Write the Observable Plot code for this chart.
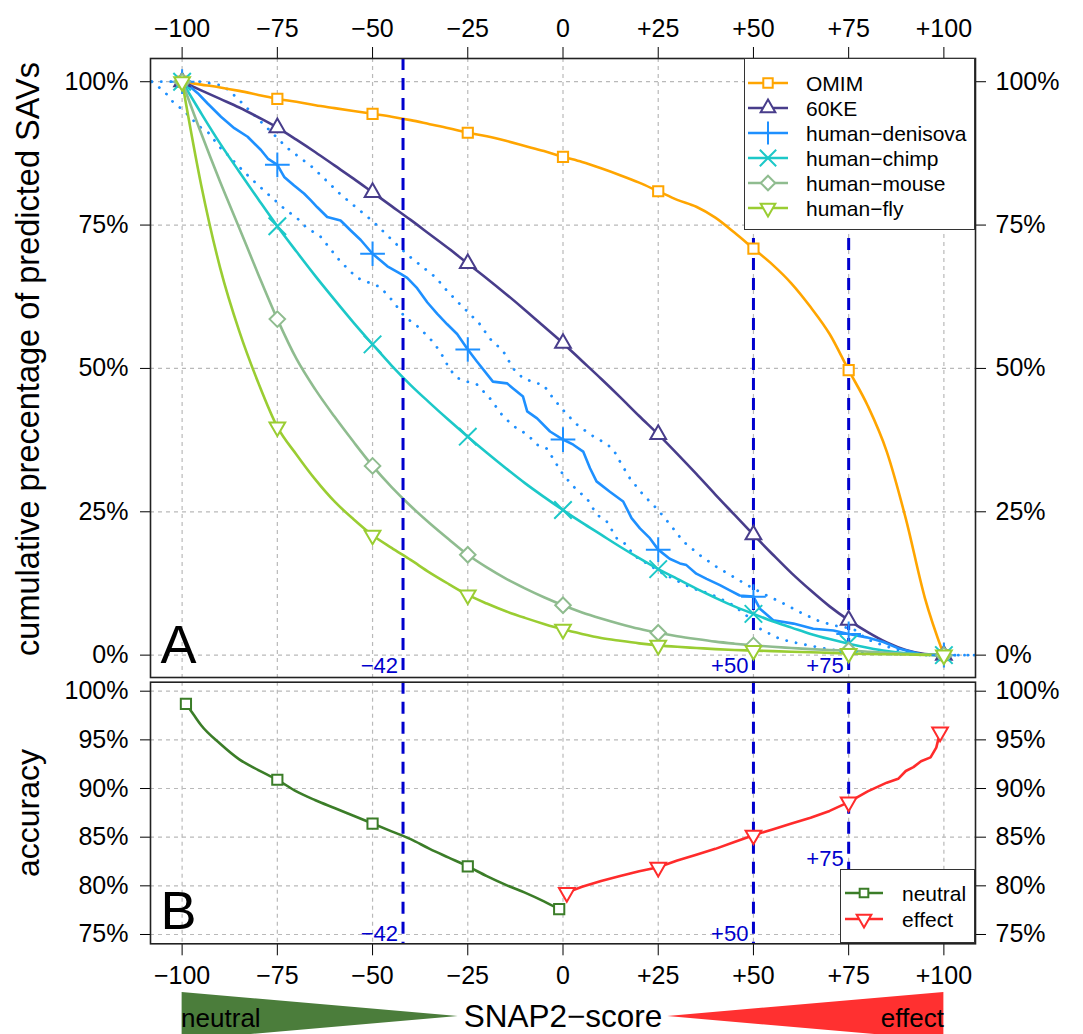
<!DOCTYPE html>
<html>
<head>
<meta charset="utf-8">
<script src="https://cdn.jsdelivr.net/npm/d3@7"></script>
<script src="https://cdn.jsdelivr.net/npm/@observablehq/plot@0.6"></script>
<style>
  html,body{margin:0;padding:0;background:#fff;overflow:hidden}
  #wrap{position:relative;width:1083px;height:1034px;font-family:"Liberation Sans",Arial,Helvetica,sans-serif;color:#000;overflow:hidden}
  #wrap svg.plotsvg{position:absolute;left:0}
  .legend{position:absolute;background:#fff;border:1.5px solid #333;box-sizing:border-box}
  .legend svg{position:absolute}
  .legend span{position:absolute;white-space:nowrap;line-height:1}
</style>
</head>
<body>
<div id="wrap"></div>
<script>
// ================= DATA =================
// SNAP2 score grid (panel A smooth series sampled every 5 units)
const scoreGrid = [-100,-95,-90,-85,-80,-75,-70,-65,-60,-55,-50,-45,-40,-35,-30,-25,-20,-15,-10,-5,0,5,10,15,20,25,30,35,40,45,50,55,60,65,70,75,80,85,90,95,100];

// cumulative percentage of predicted SAVs (panel A)
const omim  = [100,99.5,99.0,98.4,97.7,97.0,96.5,95.9,95.4,94.9,94.4,93.9,93.3,92.6,91.9,91.1,90.5,89.7,88.8,87.9,86.9,86.0,84.9,83.7,82.4,80.9,79.4,78.2,76.3,73.7,70.9,68.1,64.8,60.7,56.0,49.7,43.5,35.5,23.8,10.0,0];
const ke60  = [100,98.5,97.0,95.5,93.8,92.0,89.9,87.7,85.4,83.1,80.7,78.3,75.9,73.4,70.9,68.3,65.7,63.0,60.2,57.3,54.4,51.3,48.2,45.0,41.7,38.5,35.1,31.6,28.0,24.5,21.0,17.6,14.3,11.3,8.5,6.1,4.0,2.2,0.9,0.2,0];
const chimp = [100,94.5,89.2,84.3,79.5,74.8,70.4,66.1,62.0,58.0,54.2,50.5,47.1,44.0,41.0,38.1,35.3,32.6,30.0,27.6,25.3,23.1,21.0,18.9,16.9,15.0,13.3,11.6,10.0,8.5,7.2,5.9,4.8,3.7,2.8,2.0,1.3,0.7,0.3,0.1,0];
const mouse = [100,91.0,82.5,74.5,66.4,58.6,51.7,46.3,41.6,37.2,33.0,29.3,26.0,23.0,20.2,17.5,15.3,13.35,11.65,10.1,8.7,7.45,6.4,5.45,4.6,3.9,3.3,2.8,2.35,2.0,1.7,1.45,1.25,1.05,0.9,0.8,0.6,0.4,0.25,0.1,0];
const fly   = [100,82.0,67.5,56.5,47.5,39.8,35.0,30.6,26.8,23.7,20.9,18.7,16.6,14.4,12.4,10.5,9.0,7.65,6.5,5.45,4.5,3.7,3.0,2.5,2.05,1.7,1.45,1.25,1.05,0.9,0.8,0.7,0.6,0.5,0.4,0.3,0.2,0.15,0.1,0.05,0];

// human-denisova (jagged, [score, %])
const denisova = [[-100,100],[-99.4,100],[-95.9,98],[-93.3,96.2],[-89.8,93.9],[-86.3,91.9],[-82.8,90.4],[-79.3,88.1],[-77.5,86.6],[-75,85.5],[-73.2,83.4],[-70.6,81.9],[-68,80.5],[-66.2,79.3],[-64.5,78.1],[-61.9,76.4],[-58.4,75.8],[-55.8,74.1],[-53.1,72.4],[-50,70.0],[-46.1,67.8],[-42.6,66.5],[-40.9,65.8],[-38.3,64],[-35.6,61.5],[-33,59.5],[-30.4,57.7],[-27.8,56],[-25,53.3],[-22.6,51.2],[-18.4,47.7],[-14.7,47.4],[-13.1,46.5],[-10.5,45.1],[-9.4,42.5],[-6.8,41.3],[-3.4,39],[0,37.6],[2.7,36.7],[5.3,35.5],[7.1,32.6],[8.8,30.3],[12.3,28.5],[15.8,26.8],[18,23.9],[20.2,22.1],[22.8,20.4],[25,18.4],[28,16.8],[30.7,16],[32.4,15.7],[35,14.2],[37.7,13.3],[41.2,12.2],[43.8,11.3],[46.4,10.4],[50,10.2],[51.7,8.1],[55.2,6.1],[60.5,5.5],[65.7,4.6],[71,4.3],[75,3.7],[79.7,3.1],[84.1,2.3],[88.4,1.1],[93.7,0.2],[100,0]];
const denisovaMarks = [[-100,100],[-75,85.5],[-50,70.0],[-25,53.3],[0,37.6],[25,18.4],[50,10.2],[75,3.7],[100,0]];

// dotted bounds around human-denisova ([score, %])
const upperBound = [[-108,100],[-95,100],[-89.2,99.3],[-85.6,97.2],[-82.2,94.9],[-77,91.5],[-72.5,88.5],[-65.6,85],[-58.5,80.4],[-50,75.7],[-41,69.9],[-33.1,65.7],[-31.5,64.3],[-27.8,61.7],[-25.2,60],[-21.8,57.7],[-19.2,55.2],[-15.7,53],[-13.1,50],[-10.5,48.3],[-6.8,47.4],[-5.2,47.2],[-2.6,44.8],[1,42],[3.7,40.2],[7.1,38.5],[10.5,37.2],[13.1,36],[15,33.7],[17.6,30.8],[21,28],[24.7,25.5],[28.1,22.8],[31.6,19.8],[36,17.4],[40.3,15.4],[45.6,13.3],[50,11.6],[53.5,10.4],[57,9.3],[62.2,7.5],[66.6,6.1],[70.9,5.2],[76.2,4.6],[79.7,2.8],[84.1,1.7],[88.5,0.8],[93.7,0],[108,0]];
const lowerBound = [[-108,100],[-106.2,99.1],[-104,97.8],[-102.2,96.3],[-99.6,95],[-95.7,92.3],[-93.1,91.1],[-90,88.5],[-87.8,87.1],[-84.8,85],[-82.2,83.3],[-77.8,80.6],[-73.4,78],[-69.5,76],[-67.3,74.5],[-63.8,73.1],[-58.5,68.7],[-54.1,65.8],[-48,64.2],[-44.6,61.7],[-42.3,59.6],[-40.7,58.6],[-38.3,57.4],[-34.9,55.2],[-32.3,53],[-29.7,49.8],[-27.6,48.3],[-25.2,47.7],[-22.6,47.2],[-19.2,44.8],[-15.7,41.6],[-12.1,39.5],[-9.4,38.5],[-6.8,36.7],[-4.2,36],[-1.6,33.2],[0.1,31.4],[3.6,28.8],[6.3,27.3],[8.9,24.5],[11.5,23.3],[14.2,20.3],[16.8,19.2],[18.5,17.4],[22,16],[25.5,14.5],[29,13.3],[34.2,11.6],[38.6,10.7],[43,9.3],[44.7,8.7],[48.2,6.9],[51.7,4.6],[57,2.8],[62.2,2],[69.2,1.1],[75.3,0.5],[84.1,0.2],[97,0],[108,0]];

// accuracy (panel B, [score, %])
const neutralAcc = [[-99,98.7],[-97,97.6],[-95,96.5],[-90,94.6],[-85,93.0],[-80,91.9],[-75,90.9],[-70,89.7],[-65,88.8],[-60,88.0],[-55,87.2],[-50,86.4],[-45,85.6],[-40,84.8],[-35,83.8],[-30,82.9],[-25,82.0],[-20,81.0],[-15,80.1],[-10,79.3],[-5,78.4],[-1,77.6]];
const neutralMarks = [[-99,98.7],[-75,90.9],[-50,86.4],[-25,82.0],[-1,77.6]];
const effectAcc = [[1,79.3],[5,79.9],[10,80.5],[15,81.0],[20,81.5],[25,81.9],[30,82.6],[35,83.2],[40,83.8],[45,84.5],[50,85.2],[55,85.8],[60,86.4],[65,87.0],[70,87.7],[75,88.6],[80,89.7],[85,90.6],[88,91.0],[90,91.8],[92,92.2],[94,92.8],[96.5,93.2],[98,94.2],[99,95.8]];
const effectMarks = [[1,79.3],[25,81.9],[50,85.2],[75,88.6],[99,95.8]];

// ticks, thresholds, labels
const xTicks = [-100,-75,-50,-25,0,25,50,75,100];
const yTicksA = [0,25,50,75,100];
const yTicksB = [75,80,85,90,95,100];
const thresholds = [-42,50,75];
const seriesNames = ["OMIM","60KE","human\u2212denisova","human\u2212chimp","human\u2212mouse","human\u2212fly"];
const accNames = ["neutral","effect"];
const scaleEnds = [-100,100];     // SNAP2 colour wedges
const wedgeApex = [-27.5,27.5];

// ================= STYLE =================
const FONT = "'Liberation Sans', Arial, Helvetica, sans-serif";
const C = {omim:"#ffa500", ke60:"#483d8b", denisova:"#1e90ff", chimp:"#1cc8c8", mouse:"#8fbc8f", fly:"#9acd32",
           thr:"#0000cd", neutral:"#3b7d28", effect:"#ff2b2b", grid:"#b9b9b9"};
const fmtX = d => d > 0 ? `+${d}` : d < 0 ? `\u2212${-d}` : "0";
const pct = d => `${d}%`;
const XDOM = [-108.3, 108.3];

const smooth = [
  {name:seriesNames[0], vals:omim,  color:C.omim},
  {name:seriesNames[1], vals:ke60,  color:C.ke60},
  {name:seriesNames[3], vals:chimp, color:C.chimp},
  {name:seriesNames[4], vals:mouse, color:C.mouse},
  {name:seriesNames[5], vals:fly,   color:C.fly}
];
const rowsOf = s => scoreGrid.map((x,i)=>({x, y:s.vals[i]}));
const marksOf = s => rowsOf(s).filter(d => xTicks.includes(d.x));
const P = a => a.map(([x,y])=>({x,y}));

const gridStyle = {stroke:C.grid, strokeOpacity:1, strokeWidth:1.2, strokeDasharray:"4,4"};
const lineW = 2.6;

// ================= PANEL A =================
const lineMarks = [
  Plot.line(rowsOf(smooth[0]), {x:"x", y:"y", stroke:C.omim, strokeWidth:lineW, curve:"monotone-x"}),
  Plot.line(rowsOf(smooth[1]), {x:"x", y:"y", stroke:C.ke60, strokeWidth:lineW, curve:"monotone-x"}),
  Plot.line(P(denisova), {x:"x", y:"y", stroke:C.denisova, strokeWidth:lineW, strokeLinejoin:"round"}),
  Plot.line(rowsOf(smooth[2]), {x:"x", y:"y", stroke:C.chimp, strokeWidth:lineW, curve:"monotone-x"}),
  Plot.line(rowsOf(smooth[3]), {x:"x", y:"y", stroke:C.mouse, strokeWidth:lineW, curve:"monotone-x"}),
  Plot.line(rowsOf(smooth[4]), {x:"x", y:"y", stroke:C.fly, strokeWidth:lineW, curve:"monotone-x"})
];

const dotMarks = [
  Plot.dot(marksOf(smooth[0]), {x:"x", y:"y", symbol:"square2", r:6.5, stroke:C.omim, fill:"white", strokeWidth:2}),
  Plot.dot(marksOf(smooth[1]), {x:"x", y:"y", symbol:"triangle2", r:7.5, stroke:C.ke60, fill:"white", strokeWidth:2}),
  Plot.dot(P(denisovaMarks), {x:"x", y:"y", symbol:"plus", r:8, stroke:C.denisova, strokeWidth:2}),
  Plot.dot(marksOf(smooth[2]), {x:"x", y:"y", symbol:"times", r:8, stroke:C.chimp, strokeWidth:2}),
  Plot.dot(marksOf(smooth[3]), {x:"x", y:"y", symbol:"diamond2", r:7, stroke:C.mouse, fill:"white", strokeWidth:2}),
  Plot.dot(marksOf(smooth[4]), {x:"x", y:"y", symbol:"triangle2", rotate:180, r:7.5, stroke:C.fly, fill:"white", strokeWidth:2})
];

const plotA = Plot.plot({
  width:1083, height:680,
  marginTop:58, marginBottom:3, marginLeft:150, marginRight:108,
  x:{domain:XDOM}, y:{domain:[-3.9,104.05]},
  style:{fontFamily:FONT, fontSize:"25px", background:"transparent", overflow:"visible", color:"#000"},
  marks:[
    Plot.gridX(xTicks, gridStyle),
    Plot.gridY(yTicksA, gridStyle),
    Plot.line(P(upperBound), {x:"x", y:"y", stroke:C.denisova, strokeWidth:2.8, strokeDasharray:"0.1,9.5", strokeLinecap:"round"}),
    Plot.line(P(lowerBound), {x:"x", y:"y", stroke:C.denisova, strokeWidth:2.8, strokeDasharray:"0.1,9.5", strokeLinecap:"round"}),
    ...lineMarks,
    Plot.ruleX(thresholds, {stroke:C.thr, strokeWidth:3, strokeDasharray:"12,8"}),
    ...dotMarks,
    Plot.text(thresholds, {x:d=>d, text:fmtX, frameAnchor:"bottom", textAnchor:"end", lineAnchor:"bottom", dx:-5, dy:-5, fill:C.thr, fontSize:22}),
    Plot.text(["A"], {frameAnchor:"bottom-left", textAnchor:"start", lineAnchor:"bottom", dx:10, dy:-15, fontSize:54}),
    Plot.axisX(xTicks, {anchor:"top", tickFormat:fmtX, tickSize:12, tickPadding:10, label:null, fontSize:25}),
    Plot.axisY(yTicksA, {anchor:"left", tickFormat:pct, tickSize:10, tickPadding:12, label:null, fontSize:25}),
    Plot.axisY(yTicksA, {anchor:"right", tickFormat:pct, tickSize:10, tickPadding:10, label:null, fontSize:25}),
    Plot.text(["cumulative precentage of predicted SAVs"], {frameAnchor:"left", rotate:-90, dx:-122, dy:-9, fontSize:32.5, lineAnchor:"middle", textAnchor:"middle"}),
    Plot.frame({stroke:"#222", strokeWidth:1.6})
  ]
});

// ================= PANEL B =================
const plotB = Plot.plot({
  width:1083, height:323,
  marginTop:4.7, marginBottom:56.7, marginLeft:150, marginRight:108,
  x:{domain:XDOM}, y:{domain:[74.044,100.925]},
  style:{fontFamily:FONT, fontSize:"25px", background:"transparent", overflow:"visible", color:"#000"},
  marks:[
    Plot.gridX(xTicks, gridStyle),
    Plot.gridY(yTicksB, gridStyle),
    Plot.ruleX(thresholds, {stroke:C.thr, strokeWidth:3, strokeDasharray:"12,8"}),
    Plot.line(P(neutralAcc), {x:"x", y:"y", stroke:C.neutral, strokeWidth:lineW, curve:"monotone-x"}),
    Plot.line(P(effectAcc), {x:"x", y:"y", stroke:C.effect, strokeWidth:lineW, strokeLinejoin:"round"}),
    Plot.dot(P(neutralMarks), {x:"x", y:"y", symbol:"square2", r:6.5, stroke:C.neutral, fill:"white", strokeWidth:2}),
    Plot.dot(P(effectMarks), {x:"x", y:"y", symbol:"triangle2", rotate:180, r:7.5, stroke:C.effect, fill:"white", strokeWidth:2}),
    Plot.text(thresholds.slice(0,2), {x:d=>d, text:fmtX, frameAnchor:"bottom", textAnchor:"end", lineAnchor:"bottom", dx:-5, dy:-3, fill:C.thr, fontSize:22}),
    Plot.text(thresholds.slice(2), {x:d=>d, text:fmtX, frameAnchor:"bottom", textAnchor:"end", lineAnchor:"bottom", dx:-5, dy:-78, fill:C.thr, fontSize:22}),
    Plot.text(["B"], {frameAnchor:"bottom-left", textAnchor:"start", lineAnchor:"bottom", dx:10, dy:-15, fontSize:54}),
    Plot.axisX(xTicks, {anchor:"bottom", tickFormat:fmtX, tickSize:12, tickPadding:10, label:null, fontSize:25}),
    Plot.axisY(yTicksB, {anchor:"left", tickFormat:pct, tickSize:10, tickPadding:12, label:null, fontSize:25}),
    Plot.axisY(yTicksB, {anchor:"right", tickFormat:pct, tickSize:10, tickPadding:10, label:null, fontSize:25}),
    Plot.text(["accuracy"], {frameAnchor:"left", rotate:-90, dx:-122, fontSize:32, lineAnchor:"middle", textAnchor:"middle"}),
    Plot.frame({stroke:"#222", strokeWidth:1.6})
  ]
});

// ================= SNAP2 score wedges =================
const wedgeNeutral = [{x:scaleEnds[0], lo:-1, hi:1},{x:wedgeApex[0], lo:0, hi:0}];
const wedgeEffect  = [{x:wedgeApex[1], lo:0, hi:0},{x:scaleEnds[1], lo:-1, hi:1}];
const plotC = Plot.plot({
  width:1083, height:50,
  marginTop:2, marginBottom:0, marginLeft:150, marginRight:108,
  x:{domain:XDOM, axis:null}, y:{domain:[-1,1], axis:null},
  style:{fontFamily:FONT, background:"transparent", overflow:"visible", color:"#000"},
  marks:[
    Plot.area(wedgeNeutral, {x1:"x", y1:"lo", y2:"hi", fill:"#4b7d3b"}),
    Plot.area(wedgeEffect, {x1:"x", y1:"lo", y2:"hi", fill:"#ff3030"}),
    Plot.text(["neutral"], {x:scaleEnds[0], y:0, textAnchor:"start", dx:-1, dy:2, fontSize:26}),
    Plot.text(["effect"], {x:scaleEnds[1], y:0, textAnchor:"end", dx:0, dy:2, fontSize:26}),
    Plot.text(["SNAP2\u2212score"], {x:0, y:0, textAnchor:"middle", fontSize:31.5})
  ]
});

// ================= assemble =================
const wrap = document.getElementById("wrap");
function place(svg, top){ svg.classList.add("plotsvg"); svg.style.top = top + "px"; wrap.appendChild(svg); }
place(plotA, 0);
place(plotB, 677);
place(plotC, 990);

const symMap = {square2:d3.symbolSquare2, triangle2:d3.symbolTriangle2, plus:d3.symbolPlus, times:d3.symbolTimes, diamond2:d3.symbolDiamond2};
function makeLegend(items, box){
  const div = document.createElement("div");
  div.className = "legend";
  Object.assign(div.style, {left:box.left+"px", top:box.top+"px", width:box.width+"px", height:box.height+"px"});
  items.forEach((it,i)=>{
    const cy = box.firstY + i*box.rowH;
    const svg = d3.create("svg").attr("width", box.lineLen+4).attr("height", 24)
      .style("left", (box.lineX0-2)+"px").style("top", (cy-12)+"px");
    svg.append("line").attr("x1",2).attr("x2",2+box.lineLen).attr("y1",12).attr("y2",12)
      .attr("stroke",it.color).attr("stroke-width",2.6);
    svg.append("path").attr("d", d3.symbol(symMap[it.symbol], Math.PI*it.r*it.r)())
      .attr("transform", `translate(${2+box.lineLen/2},12) rotate(${it.rotate||0})`)
      .attr("fill", it.fill ? "white" : "none").attr("stroke", it.color).attr("stroke-width", 2);
    div.appendChild(svg.node());
    const t = document.createElement("span");
    t.textContent = it.name;
    t.style.left = box.textX + "px";
    t.style.fontSize = box.fontSize + "px";
    t.style.top = (cy - box.fontSize*0.5) + "px";
    div.appendChild(t);
  });
  wrap.appendChild(div);
}
makeLegend([
  {name:seriesNames[0], color:C.omim, symbol:"square2", r:6, fill:true},
  {name:seriesNames[1], color:C.ke60, symbol:"triangle2", r:7, fill:true},
  {name:seriesNames[2], color:C.denisova, symbol:"plus", r:7.5},
  {name:seriesNames[3], color:C.chimp, symbol:"times", r:7.5},
  {name:seriesNames[4], color:C.mouse, symbol:"diamond2", r:6.5, fill:true},
  {name:seriesNames[5], color:C.fly, symbol:"triangle2", rotate:180, r:7, fill:true}
], {left:744, top:58, width:231, height:172, firstY:24, rowH:25, lineX0:3, lineLen:40, textX:61, fontSize:21});

makeLegend([
  {name:accNames[0], color:C.neutral, symbol:"square2", r:5.5, fill:true},
  {name:accNames[1], color:C.effect, symbol:"triangle2", rotate:180, r:7, fill:true}
], {left:840, top:869, width:135, height:74, firstY:23, rowH:26, lineX0:4, lineLen:38, textX:61, fontSize:21});
</script>
</body>
</html>
